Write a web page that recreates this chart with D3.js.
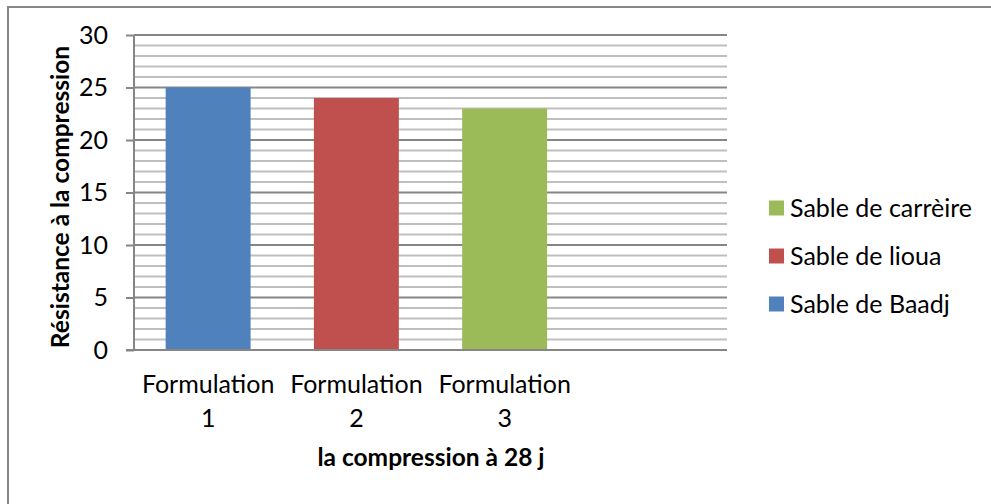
<!DOCTYPE html>
<html>
<head>
<meta charset="utf-8">
<script src="https://cdn.jsdelivr.net/npm/d3@7"></script>
<style>
  html, body { margin: 0; padding: 0; background: #fff; }
  svg { display: block; }
  text { font-family: Lato, "Open Sans", sans-serif; fill: #000; }
</style>
</head>
<body>
<svg id="chart" width="991" height="504"></svg>
<script>
const categories = ["Formulation 1", "Formulation 2", "Formulation 3", ""];
const seriesNames = ["Sable de Baadj", "Sable de lioua", "Sable de carrèire"];
const seriesValues = [25, 24, 23];
const seriesColors = ["#4f81bd", "#c0504d", "#9bbb59"];
const yTicks = [0, 5, 10, 15, 20, 25, 30];
const yMinor = d3.range(0, 31, 1);
const yTitle = "Résistance à la compression";
const xTitle = "la compression à 28 j";

(function () {
const svg = d3.select("#chart");

// outer chart border
svg.append("rect").attr("x", 8).attr("y", 7).attr("width", 1000).attr("height", 600)
  .attr("fill", "none").attr("stroke", "#868686").attr("stroke-width", 2);

const pL = 134, pR = 727, pT = 35, pB = 350;
const x = d3.scaleBand().domain(categories.map((c, i) => i)).range([pL, pR]).paddingInner(0.427).paddingOuter(0.2135);
const y = d3.scaleLinear().domain([0, 30]).range([pB, pT]);

// minor gridlines
svg.append("g").selectAll("line").data(yMinor.filter(v => v % 5 !== 0)).join("line")
  .attr("x1", pL).attr("x2", pR).attr("y1", d => y(d)).attr("y2", d => y(d))
  .attr("stroke", "#bfbfbf").attr("stroke-width", 2);
// major gridlines
svg.append("g").selectAll("line").data(yTicks.filter(v => v > 0)).join("line")
  .attr("x1", pL).attr("x2", pR).attr("y1", d => y(d)).attr("y2", d => y(d))
  .attr("stroke", "#868686").attr("stroke-width", 2);

// bars: each series occupies its own category
svg.append("g").selectAll("rect").data(seriesValues).join("rect")
  .attr("x", (d, i) => x(i)).attr("width", x.bandwidth())
  .attr("y", d => y(d)).attr("height", d => y(0) - y(d))
  .attr("fill", (d, i) => seriesColors[i]);

// y axis
const yAxis = svg.append("g").attr("transform", `translate(${pL},0)`)
  .call(d3.axisLeft(y).tickValues(yTicks).tickSize(8).tickPadding(18).tickFormat(d3.format("d")));
yAxis.select(".domain").attr("stroke", "#868686").attr("stroke-width", 2).attr("d", `M0,${pT}V${pB}`);
yAxis.selectAll(".tick line").attr("stroke", "#868686").attr("stroke-width", 2);
yAxis.selectAll(".tick text").style("font-size", "25px").attr("font-family", "Lato, sans-serif").attr("fill", "#000");

// x axis baseline
svg.append("line").attr("x1", pL - 8).attr("x2", pR).attr("y1", pB).attr("y2", pB)
  .attr("stroke", "#868686").attr("stroke-width", 2);

// x category labels (two lines)
const xl = svg.append("g").selectAll("text").data(categories.filter(c => c)).join("text")
  .attr("text-anchor", "middle").style("font-size", "25px")
  .attr("transform", (d, i) => `translate(${x(i) + x.bandwidth() / 2},0)`);
xl.append("tspan").attr("x", 0).attr("y", 393).text(d => d.split(" ")[0]);
xl.append("tspan").attr("x", 0).attr("y", 427).text(d => d.split(" ")[1]);

// axis titles
svg.append("text").attr("x", 431).attr("y", 466).attr("text-anchor", "middle")
  .style("font-size", "24.5px").style("font-weight", "bold").text(xTitle);
svg.append("text").attr("transform", "translate(69,197) rotate(-90)").attr("text-anchor", "middle")
  .style("font-size", "24.5px").style("font-weight", "bold").text(yTitle);

// legend (reverse order)
const legendY = [208, 256, 304];
const leg = svg.append("g").selectAll("g").data(d3.range(seriesNames.length).reverse()).join("g")
  .attr("transform", (d, i) => `translate(769,${legendY[i]})`);
leg.append("rect").attr("x", 0).attr("y", -7.5).attr("width", 15).attr("height", 15)
  .attr("fill", d => seriesColors[d]);
leg.append("text").attr("x", 21).attr("y", 9).style("font-size", "25px").text(d => seriesNames[d]);
})();
</script>
</body>
</html>
